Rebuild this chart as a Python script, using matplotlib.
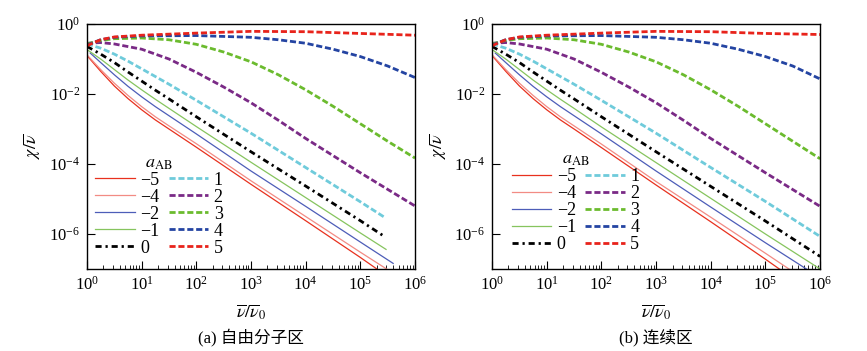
import numpy as np
import matplotlib
matplotlib.use('Agg')
import matplotlib.pyplot as plt
from matplotlib.ticker import LogLocator, NullFormatter, FixedLocator
from matplotlib.lines import Line2D

plt.rcParams['font.family'] = ['Liberation Serif', 'DejaVu Sans']
plt.rcParams['mathtext.fontset'] = 'stix'

# a_AB values, order of the legend
a_values = [-5, -4, -2, -1, 0, 1, 2, 3, 4, 5]
a_labels = ['\u22125', '\u22124', '\u22122', '\u22121', '0', '1', '2', '3', '4', '5']

# (a) free molecular regime, log10 of x and y
free_logx = [
    [0, 0.25, 0.5, 0.75, 1, 1.25, 1.5, 2, 3, 4, 5, 5.33],
    [0, 0.25, 0.5, 0.75, 1, 1.25, 1.5, 2, 3, 4, 5, 5.48],
    [0.06, 0.25, 0.5, 0.75, 1, 1.25, 1.5, 2, 3, 4, 5, 5.6],
    [0, 0.25, 0.5, 0.75, 1, 1.25, 1.5, 2, 3, 4, 5, 5.47],
    [0, 0.25, 0.5, 0.75, 1, 1.25, 1.5, 2, 3, 4, 5, 5.42],
    [0, 0.25, 0.5, 0.75, 1, 1.25, 1.5, 2, 3, 4, 5, 5.46],
    [0, 0.25, 0.5, 1, 1.5, 2, 2.5, 3, 3.5, 4, 5, 6],
    [0, 0.25, 0.5, 1, 1.5, 2, 2.5, 3, 3.5, 4, 4.5, 5, 5.5, 6],
    [0, 0.25, 0.5, 1, 2, 3, 3.5, 4, 4.5, 5, 5.5, 6],
    [0, 0.25, 0.5, 1, 2, 3, 4, 5, 6],
]
free_logy = [
    [-0.9, -1.35, -1.77, -2.13, -2.45, -2.74, -3.0, -3.52, -4.58, -5.62, -6.67, -7.03],
    [-0.88, -1.3, -1.69, -2.04, -2.36, -2.65, -2.91, -3.42, -4.48, -5.5, -6.52, -7.0],
    [-0.83, -1.1, -1.45, -1.78, -2.08, -2.36, -2.62, -3.14, -4.2, -5.21, -6.23, -6.84],
    [-0.73, -1.0, -1.3, -1.6, -1.88, -2.15, -2.41, -2.93, -3.95, -4.96, -5.97, -6.44],
    [-0.64, -0.86, -1.1, -1.37, -1.63, -1.89, -2.14, -2.65, -3.65, -4.63, -5.62, -6.05],
    [-0.57, -0.69, -0.86, -1.06, -1.28, -1.5, -1.72, -2.18, -3.12, -4.1, -5.08, -5.54],
    [-0.55, -0.53, -0.57, -0.72, -1.0, -1.38, -1.8, -2.25, -2.75, -3.27, -4.25, -5.2],
    [-0.57, -0.47, -0.42, -0.4, -0.45, -0.58, -0.8, -1.08, -1.45, -1.88, -2.35, -2.85, -3.35, -3.83],
    [-0.6, -0.45, -0.38, -0.34, -0.33, -0.38, -0.45, -0.55, -0.72, -0.93, -1.2, -1.53],
    [-0.62, -0.45, -0.37, -0.32, -0.26, -0.21, -0.22, -0.27, -0.32],
]

# (b) continuum regime
cont_logx = [
    [0, 0.25, 0.5, 0.75, 1, 1.25, 1.5, 2, 3, 4, 5, 5.3],
    [0, 0.25, 0.5, 0.75, 1, 1.25, 1.5, 2, 3, 4, 5, 5.45],
    [0.06, 0.25, 0.5, 0.75, 1, 1.25, 1.5, 2, 3, 4, 5, 5.8],
    [0, 0.25, 0.5, 0.75, 1, 1.25, 1.5, 2, 3, 4, 5, 6],
    [0, 0.25, 0.5, 0.75, 1, 1.25, 1.5, 2, 3, 4, 5, 6],
    [0, 0.25, 0.5, 0.75, 1, 1.25, 1.5, 2, 3, 4, 5, 6],
    [0, 0.25, 0.5, 1, 1.5, 2, 2.5, 3, 3.5, 4, 5, 6],
    [0, 0.25, 0.5, 1, 1.5, 2, 2.5, 3, 3.5, 4, 4.5, 5, 5.5, 6],
    [0, 0.25, 0.5, 1, 2, 3, 3.5, 4, 4.5, 5, 5.5, 6],
    [0, 0.25, 0.5, 1, 2, 3, 4, 5, 6],
]
cont_logy = [
    [-0.9, -1.35, -1.77, -2.13, -2.45, -2.74, -3.0, -3.53, -4.6, -5.65, -6.72, -7.05],
    [-0.88, -1.3, -1.69, -2.04, -2.36, -2.65, -2.91, -3.43, -4.5, -5.52, -6.55, -7.02],
    [-0.83, -1.1, -1.45, -1.78, -2.08, -2.36, -2.62, -3.14, -4.2, -5.23, -6.25, -7.05],
    [-0.73, -1.0, -1.3, -1.6, -1.88, -2.15, -2.41, -2.94, -3.96, -4.98, -6.0, -7.0],
    [-0.64, -0.86, -1.1, -1.37, -1.63, -1.89, -2.14, -2.65, -3.65, -4.64, -5.63, -6.64],
    [-0.57, -0.69, -0.86, -1.06, -1.28, -1.5, -1.72, -2.18, -3.12, -4.1, -5.07, -6.07],
    [-0.55, -0.53, -0.57, -0.72, -1.0, -1.38, -1.8, -2.25, -2.75, -3.27, -4.25, -5.21],
    [-0.57, -0.47, -0.42, -0.4, -0.45, -0.58, -0.8, -1.08, -1.45, -1.88, -2.35, -2.85, -3.35, -3.85],
    [-0.6, -0.45, -0.38, -0.34, -0.33, -0.38, -0.45, -0.55, -0.72, -0.93, -1.2, -1.57],
    [-0.62, -0.45, -0.37, -0.32, -0.26, -0.21, -0.22, -0.27, -0.3],
]

colors = ['#e8311e', '#f28b84', '#4d5db8', '#86c45e', '#000000',
          '#6fcbdb', '#7a2a86', '#6bbb2e', '#2444a2', '#e8231b']
solid_lw = 0.9
dash_lw = 2.0


def style(i):
    a = a_values[i]
    if a < 0:
        return dict(color=colors[i], lw=solid_lw, ls='-')
    if a == 0:
        return dict(color=colors[i], lw=dash_lw, dashes=(2.2, 1.4, 0.8, 1.4))
    return dict(color=colors[i], lw=dash_lw, dashes=(2.2, 1.0))


def draw_panel(ax, logx, logy, caption, leg_anchor):
    for i in range(len(a_values)):
        ax.plot(10.0 ** np.array(logx[i]), 10.0 ** np.array(logy[i]), **style(i))
    ax.set_xscale('log')
    ax.set_yscale('log')
    ax.set_xlim(1, 1e6)
    ax.set_ylim(1e-7, 1)
    ax.xaxis.set_major_locator(FixedLocator([10.0 ** k for k in range(7)]))
    ax.xaxis.set_minor_locator(LogLocator(base=10, subs=np.arange(2, 10), numticks=20))
    ax.xaxis.set_minor_formatter(NullFormatter())
    ax.yaxis.set_major_locator(FixedLocator([1, 1e-2, 1e-4, 1e-6]))
    ax.yaxis.set_minor_locator(FixedLocator([]))
    ax.tick_params(which='both', direction='in', labelsize=12, pad=5)
    ax.tick_params(which='major', length=6, width=0.8)
    ax.tick_params(which='minor', length=3, width=0.6)
    for sp in ax.spines.values():
        sp.set_linewidth(1.0)
    ax.set_ylabel(r'$\chi/\overline{\nu}$', fontsize=13, labelpad=4)
    ax.set_xlabel(r'$\overline{\nu}/\overline{\nu}_0$', fontsize=13, labelpad=6)
    ax.text(0.5, -0.278, caption, transform=ax.transAxes, ha='center', va='center',
            fontsize=12, family=['Liberation Serif', 'Noto Sans CJK SC'])

    handles = [Line2D([], [], **style(i)) for i in range(len(a_values))]
    ax.legend(handles, a_labels, ncol=2, loc='lower left', bbox_to_anchor=leg_anchor,
              frameon=False, fontsize=13, title=r'$a_{\rm AB}$', title_fontsize=13,
              handlelength=2.2, handletextpad=0.3, columnspacing=0.5,
              labelspacing=0.0, borderpad=0, borderaxespad=0)


fig = plt.figure(figsize=(8.67, 3.51), dpi=100)
ax1 = fig.add_axes([0.1003, 0.2336, 0.3784, 0.698])
ax2 = fig.add_axes([0.5675, 0.2336, 0.3784, 0.698])

draw_panel(ax1, free_logx, free_logy, '(a) 自由分子区', (0.025, 0.05))
draw_panel(ax2, cont_logx, cont_logy, '(b) 连续区', (0.06, 0.065))

fig.savefig('out.png', dpi=100)
